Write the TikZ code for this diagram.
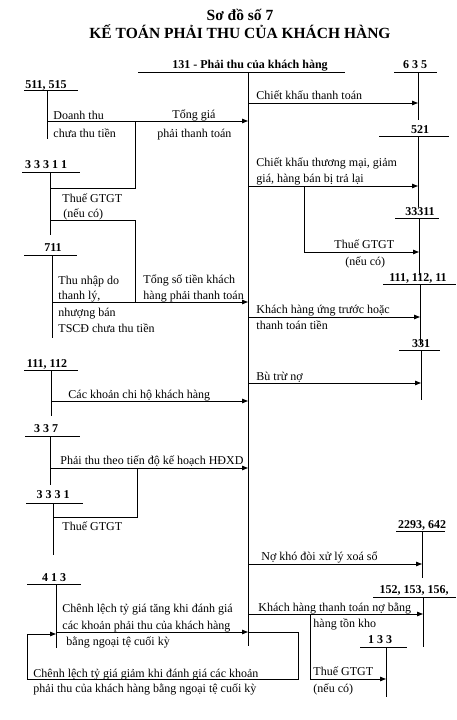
\documentclass[tikz,border=0pt]{standalone}
\usepackage{fontspec}
\setmainfont{Liberation Serif}
\usetikzlibrary{arrows.meta,positioning}

\begin{document}
\begin{tikzpicture}[x=1pt,y=-1pt,line width=0.9pt,
    ttl/.style={font=\bfseries\fontsize{15.5}{18}\selectfont, anchor=base, inner sep=0pt},
    acct/.style={font=\bfseries\fontsize{12}{14}\selectfont, anchor=base, inner sep=0pt},
    txt/.style={font=\fontsize{12}{14}\selectfont, anchor=base west, inner sep=0pt},
    flow/.style={-{Triangle[length=6pt,width=4.5pt]}}]
    \useasboundingbox (0,0) rectangle (456,720);

    % Title
    \node[ttl] (ttl1) at (240,20) {Sơ đồ số 7};
    \node[ttl] (ttl2) at (240,38) {KẾ TOÁN PHẢI THU CỦA KHÁCH HÀNG};

    % Account 131 (middle)
    \node[acct] (a131) at (250,68) {131 - Phải thu của khách hàng};
    \draw (138,72) -- (345,72);
    \coordinate (k131) at (248,72);
    \coordinate (k131e) at (248,646);
    \draw (k131) -- (k131e);

    % Left accounts
    \node[acct] (a511) at (46,88) {511, 515};
    \draw (24,90) -- (78,90);
    \coordinate (k511) at (47,90);
    \draw (k511) -- (47,139);

    \node[acct] (a33311) at (46,168) {3 3 3 1 1};
    \draw (22,172) -- (80,172);
    \coordinate (k33311) at (50,172);
    \draw (k33311) -- (50,235);

    \node[acct] (a711) at (53,251) {711};
    \draw (24,255) -- (77,255);
    \coordinate (k711) at (52,255);
    \draw (k711) -- (52,338);

    \node[acct] (a111) at (47,367) {111, 112};
    \draw (24,370) -- (78,370);
    \coordinate (k111) at (51,370);
    \draw (k111) -- (51,416);

    \node[acct] (a337) at (46,432) {3 3 7};
    \draw (25,436) -- (80,436);
    \coordinate (k337) at (50,436);
    \draw (k337) -- (50,485);

    \node[acct] (a3331) at (53,498) {3 3 3 1};
    \draw (26,503) -- (83,503);
    \coordinate (k3331) at (53,503);
    \draw (k3331) -- (53,555);

    \node[acct] (a413) at (54,581) {4 1 3};
    \draw (27,584) -- (81,584);
    \coordinate (k413) at (56,584);
    \draw (k413) -- (56,648);

    % Right accounts
    \node[acct] (a635) at (415,68) {6 3 5};
    \draw (394,72) -- (437,72);
    \coordinate (k635) at (418,72);
    \draw (k635) -- (418,120);

    \node[acct] (a521) at (420,133) {521};
    \draw (379,136) -- (449,136);
    \coordinate (k521) at (418,136);
    \draw (k521) -- (418,207);

    \node[acct] (a33311r) at (420,215) {33311};
    \draw (395,218) -- (439,218);
    \coordinate (k33311r) at (419,218);
    \draw (k33311r) -- (419,275);

    \node[acct] (a111r) at (418,281) {111, 112, 11};
    \draw (383,284) -- (456,284);
    \coordinate (k111r) at (420,284);
    \draw (k111r) -- (420,345);

    \node[acct] (a331) at (421,347) {331};
    \draw (399,350) -- (440,350);
    \coordinate (k331) at (421,350);
    \draw (k331) -- (421,400);

    \node[acct] (a2293) at (422,528) {2293, 642};
    \draw (396,531) -- (445,531);
    \coordinate (k2293) at (422,531);
    \draw (k2293) -- (422,578);

    \node[acct] (a152) at (414,593) {152, 153, 156,};
    \draw (373,597) -- (456,597);
    \coordinate (k152) at (423,597);
    \draw (k152) -- (423,647);

    \node[acct] (a133) at (380,643) {1 3 3};
    \draw (360,647) -- (407,647);
    \coordinate (k133) at (386,647);
    \draw (k133) -- (386,697);

    % Debit side of 131
    \draw[flow] (k511 |- 0,121) -- (k131 |- 0,121);
    \node[txt] (t1a) at (53,119) {Doanh thu};
    \node[txt] (t1b) at (53,137) {chưa thu tiền};
    \node[txt] (t1c) at (172,118) {Tổng giá};
    \node[txt] (t1d) at (157,137) {phải thanh toán};
    \coordinate (j1) at (135,121);
    \coordinate (j2) at (135,302);
    \draw (k33311 |- 0,188) -| (j1);
    \draw (k33311 |- 0,220) -| (j2);
    \node[txt] (t2a) at (62,202) {Thuế GTGT};
    \node[txt] (t2b) at (63,217) {(nếu có)};

    \draw[flow] (k711 |- 0,302) -- (k131 |- 0,302);
    \node[txt] (t3a) at (58,284) {Thu nhập do};
    \node[txt] (t3b) at (58,299) {thanh lý,};
    \node[txt] (t3c) at (58,316) {nhượng bán};
    \node[txt] (t3d) at (58,332) {TSCĐ chưa thu tiền};
    \node[txt] (t3e) at (143,283) {Tổng số tiền khách};
    \node[txt] (t3f) at (143,299) {hàng phải thanh toán};

    \draw[flow] (k111 |- 0,401) -- (k131 |- 0,401);
    \node[txt] (t4) at (68,398) {Các khoản chi hộ khách hàng};

    \draw[flow] (k337 |- 0,468) -- (k131 |- 0,468);
    \node[txt] (t5) at (60,464) {Phải thu theo tiến độ kế hoạch HĐXD};
    \coordinate (j4) at (137,468);
    \draw (k3331 |- 0,517) -| (j4);
    \node[txt] (t6) at (62,530) {Thuế GTGT};

    \draw[flow] (k413 |- 0,632) -- (k131 |- 0,632);
    \node[txt] (t7a) at (62,612) {Chênh lệch tỷ giá tăng khi đánh giá};
    \node[txt] (t7b) at (62,629) {các khoản phải thu của khách hàng};
    \node[txt] (t7c) at (66,645) {bằng ngoại tệ cuối kỳ};

    % Credit side of 131
    \draw[flow] (k131 |- 0,103) -- (k635 |- 0,103);
    \node[txt] (u1) at (256,99) {Chiết khấu thanh toán};

    \draw[flow] (k131 |- 0,186) -- (k521 |- 0,186);
    \node[txt] (u2a) at (256,166) {Chiết khấu thương mại, giảm};
    \node[txt] (u2b) at (256,182) {giá, hàng bán bị trả lại};
    \coordinate (j3) at (304,186);
    \draw[flow] (j3) |- (k33311r |- 0,252);
    \node[txt] (u3a) at (334,248) {Thuế GTGT};
    \node[txt] (u3b) at (345,265) {(nếu có)};

    \draw[flow] (k131 |- 0,317) -- (k111r |- 0,317);
    \node[txt] (u4a) at (256,313) {Khách hàng ứng trước hoặc};
    \node[txt] (u4b) at (256,329) {thanh toán tiền};

    \draw[flow] (k131 |- 0,383) -- (k331 |- 0,383);
    \node[txt] (u5) at (256,380) {Bù trừ nợ};

    \draw[flow] (k131 |- 0,564) -- (k2293 |- 0,564);
    \node[txt] (u6) at (261,560) {Nợ khó đòi xử lý xoá sổ};

    \draw[flow] (k131 |- 0,614) -- (k152 |- 0,614);
    \node[txt] (u7a) at (258,611) {Khách hàng thanh toán nợ bằng};
    \node[txt] (u7b) at (313,627) {hàng tồn kho};
    \coordinate (j5) at (310,614);
    \draw[flow] (j5) |- (k133 |- 0,679);
    \node[txt] (u8a) at (313,675) {Thuế GTGT};
    \node[txt] (u8b) at (313,692) {(nếu có)};

    % Loop back to 413
    \coordinate (r1) at (298,679);
    \coordinate (r2) at (27,634);
    \draw[flow] (k131 |- 0,632) -| (r1) -| (r2) -- (k413 |- r2);
    \node[txt] (v1a) at (33,677) {Chênh lệch tỷ giá giảm khi đánh giá các khoản};
    \node[txt] (v1b) at (33,692) {phải thu của khách hàng bằng ngoại tệ cuối kỳ};
\end{tikzpicture}
\end{document}
